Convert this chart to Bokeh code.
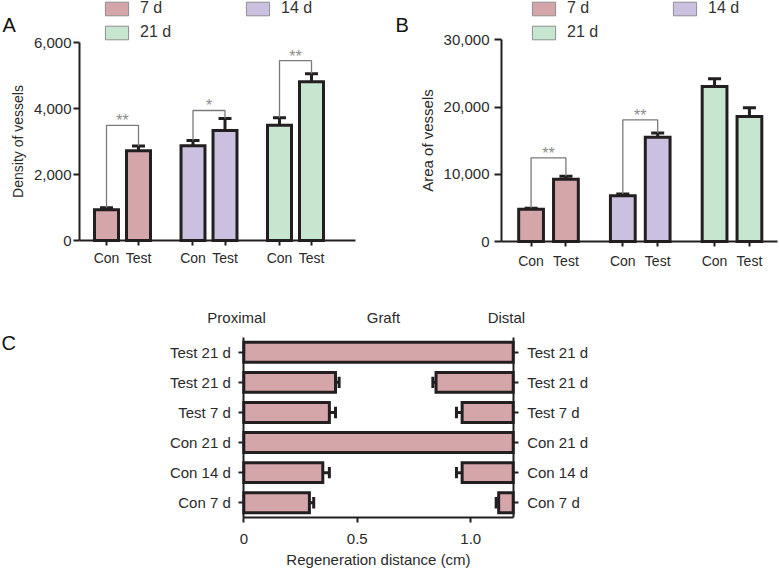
from bokeh.plotting import figure
from bokeh.layouts import column, row
from bokeh.models import (Range1d, FixedTicker, NumeralTickFormatter, Legend, LegendItem,
                          Label, LinearAxis)
from bokeh.core.properties import value
from bokeh.embed import file_html
from bokeh.resources import INLINE

FONT = "Liberation Sans"
INK = "#231f20"
TXT = "#2a2a2a"

# ---------------- data ----------------
periods = ["7 d", "14 d", "21 d"]
period_colors = ["#d4a5a9", "#cbc0df", "#c6e6d0"]
bar_labels = ["Con", "Test"]

# Panel A: density of vessels
dens_con = [930, 2870, 3490]
dens_con_err = [60, 160, 230]
dens_test = [2720, 3330, 4810]
dens_test_err = [140, 370, 240]
dens_bracket = [3490, 3940, 5450]
dens_stars = ["**", "*", "**"]
dens_ticks = [0, 2000, 4000, 6000]

# Panel B: area of vessels
area_con = [4800, 6800, 23050]
area_con_err = [150, 250, 1150]
area_test = [9250, 15500, 18600]
area_test_err = [450, 650, 1300]
area_bracket = [12450, 18100]
area_stars = ["**", "**"]
area_ticks = [0, 10000, 20000, 30000]

# Panel C: regeneration distance (rows bottom -> top)
reg_labels = ["Con 7 d", "Con 14 d", "Con 21 d", "Test 7 d", "Test 21 d", "Test 21 d"]
reg_length = 1.187
reg_prox = [0.289, 0.348, 1.187, 0.377, 0.404, 1.187]
reg_prox_err = [0.019, 0.029, 0.0, 0.027, 0.016, 0.0]
reg_dist_rows = [0, 1, 3, 4]
reg_dist = [1.123, 0.962, 0.962, 0.847]
reg_dist_err = [0.011, 0.025, 0.025, 0.014]
reg_ticks = [0, 0.5, 1.0]
reg_tick_labels = ["0", "0.5", "1.0"]
zones = ["Proximal", "Graft", "Distal"]
zone_pos = [-0.032, 0.615, 1.157]


def px_range(p0, v0, p1, v1, total):
    """Range whose frame (= whole canvas, total px) puts value v0 at pixel p0 and v1 at p1."""
    k = (v1 - v0) / (p1 - p0)
    return v0 - p0 * k, v0 + (total - p0) * k


def style_axis(ax, tick_out, standoff, label_standoff=6, size="15px", lsize="15px"):
    ax.axis_line_color = INK
    ax.axis_line_width = 2
    ax.major_tick_line_color = INK
    ax.major_tick_line_width = 2
    ax.major_tick_in = 0
    ax.major_tick_out = tick_out
    ax.minor_tick_line_color = None
    ax.major_label_standoff = standoff
    ax.major_label_text_font = FONT
    ax.major_label_text_font_size = size
    ax.major_label_text_color = TXT
    ax.axis_label_text_font = FONT
    ax.axis_label_text_font_size = lsize
    ax.axis_label_text_font_style = "normal"
    ax.axis_label_text_color = TXT
    ax.axis_label_standoff = label_standoff


def bar_panel(con, con_err, test, test_err, brackets, stars, yticks, ylabel, ylabel_size,
              letter, width, ax_left, ax_right, g0, gstep, y0_px, ytop_px, off, barw, capw,
              letter_px, legend_px, ytick_out, ystandoff, ylabel_standoff, xstandoff):
    height = 275
    ymax = yticks[-1]
    x_lo = -(g0 - ax_left) / gstep
    x_hi = (ax_right - g0) / gstep
    xs_, xe_ = px_range(g0, 0, g0 + gstep, 1, width)
    ye_, ys_ = px_range(ytop_px, ymax, y0_px, 0, height)
    p = figure(width=width, height=height, output_backend="svg", toolbar_location=None,
               x_range=Range1d(xs_, xe_), y_range=Range1d(ys_, ye_), min_border=0,
               x_axis_type=None, y_axis_type=None)
    p.outline_line_color = None
    p.grid.visible = False
    p.background_fill_color = "white"

    n = len(con)
    xc = [g - off for g in range(n)]
    xt = [g + off for g in range(n)]
    for i in range(n):
        for xs, vals in ((xc, con), (xt, test)):
            p.vbar(x=[xs[i]], top=[vals[i]], bottom=0, width=barw,
                   fill_color=period_colors[i], line_color=INK, line_width=3,
                   line_join="miter")
    for xs, vals, errs in ((xc, con, con_err), (xt, test, test_err)):
        tops = [v + e for v, e in zip(vals, errs)]
        p.segment(x0=xs, y0=vals, x1=xs, y1=tops, line_color=INK, line_width=3)
        p.segment(x0=[x - capw / 2 for x in xs], y0=tops,
                  x1=[x + capw / 2 for x in xs], y1=tops, line_color=INK, line_width=3)

    # significance brackets
    bx, by = [], []
    for i, h in enumerate(brackets):
        bx.append([xc[i], xc[i], xt[i], xt[i]])
        by.append([con[i] + con_err[i], h, h, test[i] + test_err[i]])
    p.multi_line(xs=bx, ys=by, line_color="#7a7a7a", line_width=1.3)
    p.text(x=list(range(len(brackets))), y=brackets, text=stars, text_align="center",
           text_baseline="bottom", y_offset=4, text_font=value(FONT),
           text_font_size="16px", text_color="#8c8c8c")

    # axes (placed at fixed data locations)
    yax = LinearAxis(ticker=FixedTicker(ticks=yticks),
                     formatter=NumeralTickFormatter(format="0,0"),
                     axis_label=ylabel, fixed_location=x_lo, bounds=(0, ymax))
    style_axis(yax, ytick_out, ystandoff, ylabel_standoff, "15px", ylabel_size)
    p.add_layout(yax, "left")
    ticks, over = [], {}
    for i in range(n):
        ticks += [xc[i], xt[i]]
        over[xc[i]] = bar_labels[0]
        over[xt[i]] = bar_labels[1]
    xax = LinearAxis(ticker=FixedTicker(ticks=ticks), major_label_overrides=over,
                     fixed_location=0, bounds=(x_lo, x_hi))
    style_axis(xax, 5, xstandoff, size="14px")
    p.add_layout(xax, "below")

    # legend swatches: zero-size proxies with a thin grey border
    sw = [p.vbar(x=[0], top=[0], bottom=0, width=0, fill_color=c, line_color="#8f8f8f",
                 line_width=1) for c in period_colors]
    common = dict(glyph_width=29, glyph_height=17, label_height=17, padding=0, margin=0,
                  label_standoff=9, border_line_alpha=0, background_fill_alpha=0,
                  label_text_font=FONT, label_text_font_size="16px",
                  label_text_color="#333333")
    leg1 = Legend(items=[LegendItem(label=periods[0], renderers=[sw[0]]),
                         LegendItem(label=periods[1], renderers=[sw[1]])],
                  orientation="horizontal", location=(legend_px, height - 17),
                  label_width=101, spacing=2, **common)
    leg2 = Legend(items=[LegendItem(label=periods[2], renderers=[sw[2]])],
                  location=(legend_px, height - 41), **common)
    p.add_layout(leg1)
    p.add_layout(leg2)

    p.add_layout(Label(x=letter_px, y=height - 24, x_units="screen", y_units="screen",
                       text=letter, text_font=FONT, text_font_size="20px",
                       text_color="#111111", text_baseline="middle"))
    return p


pa = bar_panel(dens_con, dens_con_err, dens_test, dens_test_err, dens_bracket, dens_stars,
               dens_ticks, "Density of vessels", "14px", "A", width=390,
               ax_left=79, ax_right=355, g0=122, gstep=86.5, y0_px=240, ytop_px=42,
               off=0.185, barw=0.277, capw=0.15, letter_px=2, legend_px=102,
               ytick_out=6, ystandoff=2, ylabel_standoff=5, xstandoff=4)
pb = bar_panel(area_con, area_con_err, area_test, area_test_err, area_bracket, area_stars,
               area_ticks, "Area of vessels", "15px", "B", width=389,
               ax_left=111, ax_right=387, g0=158, gstep=91.75, y0_px=241, ytop_px=39.3,
               off=0.19, barw=0.27, capw=0.142, letter_px=5, legend_px=139,
               ytick_out=7, ystandoff=5, ylabel_standoff=5, xstandoff=6)

# ---------------- Panel C ----------------
cw, ch = 779, 295
cx_s, cx_e = px_range(243.3, 0, 512.7, reg_length, cw)
cy_e, cy_s = px_range(61.7, 5.5, 242.3, -0.5, ch)
pc = figure(width=cw, height=ch, output_backend="svg", toolbar_location=None,
            x_range=Range1d(cx_s, cx_e), y_range=Range1d(cy_s, cy_e), min_border=0,
            x_axis_type=None, y_axis_type=None)
pc.outline_line_color = None
pc.grid.visible = False
rows = list(range(len(reg_labels)))
bh = 0.66
pc.hbar(y=rows, left=0, right=reg_prox, height=bh, fill_color=period_colors[0],
        line_color=INK, line_width=3, line_join="miter")
pc.hbar(y=reg_dist_rows, left=reg_dist, right=reg_length, height=bh,
        fill_color=period_colors[0], line_color=INK, line_width=3, line_join="miter")
cap_h = 0.19
perr_rows = [r for r, e in zip(rows, reg_prox_err) if e > 0]
perr_val = [v for v, e in zip(reg_prox, reg_prox_err) if e > 0]
perr_end = [v + e for v, e in zip(reg_prox, reg_prox_err) if e > 0]
pc.segment(x0=perr_val, y0=perr_rows, x1=perr_end, y1=perr_rows, line_color=INK, line_width=3)
pc.segment(x0=perr_end, y0=[r - cap_h for r in perr_rows], x1=perr_end,
           y1=[r + cap_h for r in perr_rows], line_color=INK, line_width=3)
derr_end = [v - e for v, e in zip(reg_dist, reg_dist_err)]
pc.segment(x0=reg_dist, y0=reg_dist_rows, x1=derr_end, y1=reg_dist_rows, line_color=INK,
           line_width=3)
pc.segment(x0=derr_end, y0=[r - cap_h for r in reg_dist_rows], x1=derr_end,
           y1=[r + cap_h for r in reg_dist_rows], line_color=INK, line_width=3)

row_over = {r: l for r, l in zip(rows, reg_labels)}
cxax = LinearAxis(ticker=FixedTicker(ticks=reg_ticks),
                  major_label_overrides={t: l for t, l in zip(reg_ticks, reg_tick_labels)},
                  axis_label="Regeneration distance (cm)", fixed_location=-0.5,
                  bounds=(0, reg_length))
style_axis(cxax, 5, 11, 4)
pc.add_layout(cxax, "below")
cyax = LinearAxis(ticker=FixedTicker(ticks=rows), major_label_overrides=row_over,
                  fixed_location=0, bounds=(-0.5, 5.5))
style_axis(cyax, 5, 8)
pc.add_layout(cyax, "left")
right_ax = LinearAxis(ticker=FixedTicker(ticks=rows), major_label_overrides=row_over,
                      fixed_location=reg_length, bounds=(-0.5, 5.5))
style_axis(right_ax, 5, 9)
pc.add_layout(right_ax, "right")

for z, zx in zip(zones, zone_pos):
    pc.add_layout(Label(x=zx, y=6.15, text=z, text_font=FONT, text_font_size="15px",
                        text_color=TXT, text_align="center", text_baseline="middle"))
pc.add_layout(Label(x=1, y=ch - 67, x_units="screen", y_units="screen", text="C",
                    text_font=FONT, text_font_size="20px", text_color="#111111",
                    text_baseline="middle"))

layout = column(row(pa, pb), pc)
open("out.html", "w").write(file_html(layout, INLINE))
